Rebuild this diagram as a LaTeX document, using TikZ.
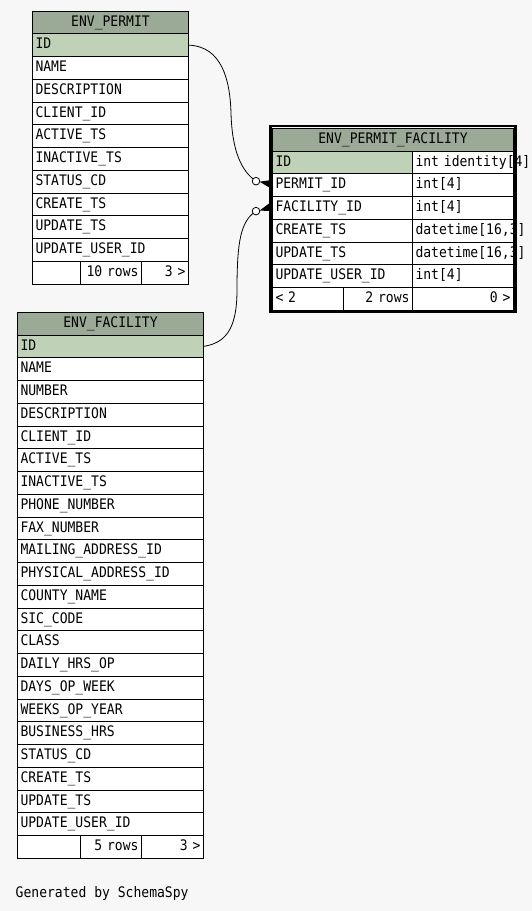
\documentclass[tikz,border=0pt]{standalone}
\usepackage{fontspec}
\usetikzlibrary{positioning}
\newfontfamily\tablefont[FakeStretch=0.9]{DejaVu Sans Mono}
\definecolor{headgreen}{RGB}{155,170,150}
\definecolor{keygreen}{RGB}{191,210,184}
\definecolor{canvas}{RGB}{247,247,247}
\tikzset{
	cell/.style={draw, fill=white, line width=1bp, outer sep=0pt, inner xsep=3bp, inner ysep=0pt,
		minimum height=22.75bp, text height=10.5bp, text depth=3bp, align=left,
		font=\fontsize{14.5bp}{17bp}\tablefont},
	headcell/.style={cell, fill=headgreen, align=center},
	keycell/.style={cell, fill=keygreen},
	rcell/.style={cell, align=right},
}
\begin{document}
\begin{tikzpicture}[x=1bp, y=-1bp]
	
	\fill[canvas] (0,0) rectangle (532,911);
	\useasboundingbox (0,0) rectangle (532,911);
	
	% ENV_PERMIT
	\node[headcell, text width=150bp, anchor=north west] (pm-0) at (32.5,11) {ENV\_PERMIT};
	\node[keycell, text width=150bp, below=0pt of pm-0] (pm-1) {ID};
	\node[cell, text width=150bp, below=0pt of pm-1] (pm-2) {NAME};
	\node[cell, text width=150bp, below=0pt of pm-2] (pm-3) {DESCRIPTION};
	\node[cell, text width=150bp, below=0pt of pm-3] (pm-4) {CLIENT\_ID};
	\node[cell, text width=150bp, below=0pt of pm-4] (pm-5) {ACTIVE\_TS};
	\node[cell, text width=150bp, below=0pt of pm-5] (pm-6) {INACTIVE\_TS};
	\node[cell, text width=150bp, below=0pt of pm-6] (pm-7) {STATUS\_CD};
	\node[cell, text width=150bp, below=0pt of pm-7] (pm-8) {CREATE\_TS};
	\node[cell, text width=150bp, below=0pt of pm-8] (pm-9) {UPDATE\_TS};
	\node[cell, text width=150bp, below=0pt of pm-9] (pm-10) {UPDATE\_USER\_ID};
	\node[cell, text width=42bp, anchor=north west] (pm-f1) at (pm-10.south west) {};
	\node[rcell, text width=55bp, right=0pt of pm-f1] (pm-f2) {10 rows};
	\node[rcell, text width=41bp, right=0pt of pm-f2] (pm-f3) {3 >};
	
	% ENV_FACILITY
	\node[headcell, text width=180bp, anchor=north west] (fa-0) at (17.5,312.3) {ENV\_FACILITY};
	\node[keycell, text width=180bp, below=0pt of fa-0] (fa-1) {ID};
	\node[cell, text width=180bp, below=0pt of fa-1] (fa-2) {NAME};
	\node[cell, text width=180bp, below=0pt of fa-2] (fa-3) {NUMBER};
	\node[cell, text width=180bp, below=0pt of fa-3] (fa-4) {DESCRIPTION};
	\node[cell, text width=180bp, below=0pt of fa-4] (fa-5) {CLIENT\_ID};
	\node[cell, text width=180bp, below=0pt of fa-5] (fa-6) {ACTIVE\_TS};
	\node[cell, text width=180bp, below=0pt of fa-6] (fa-7) {INACTIVE\_TS};
	\node[cell, text width=180bp, below=0pt of fa-7] (fa-8) {PHONE\_NUMBER};
	\node[cell, text width=180bp, below=0pt of fa-8] (fa-9) {FAX\_NUMBER};
	\node[cell, text width=180bp, below=0pt of fa-9] (fa-10) {MAILING\_ADDRESS\_ID};
	\node[cell, text width=180bp, below=0pt of fa-10] (fa-11) {PHYSICAL\_ADDRESS\_ID};
	\node[cell, text width=180bp, below=0pt of fa-11] (fa-12) {COUNTY\_NAME};
	\node[cell, text width=180bp, below=0pt of fa-12] (fa-13) {SIC\_CODE};
	\node[cell, text width=180bp, below=0pt of fa-13] (fa-14) {CLASS};
	\node[cell, text width=180bp, below=0pt of fa-14] (fa-15) {DAILY\_HRS\_OP};
	\node[cell, text width=180bp, below=0pt of fa-15] (fa-16) {DAYS\_OP\_WEEK};
	\node[cell, text width=180bp, below=0pt of fa-16] (fa-17) {WEEKS\_OP\_YEAR};
	\node[cell, text width=180bp, below=0pt of fa-17] (fa-18) {BUSINESS\_HRS};
	\node[cell, text width=180bp, below=0pt of fa-18] (fa-19) {STATUS\_CD};
	\node[cell, text width=180bp, below=0pt of fa-19] (fa-20) {CREATE\_TS};
	\node[cell, text width=180bp, below=0pt of fa-20] (fa-21) {UPDATE\_TS};
	\node[cell, text width=180bp, below=0pt of fa-21] (fa-22) {UPDATE\_USER\_ID};
	\node[cell, text width=57bp, anchor=north west] (fa-f1) at (fa-22.south west) {};
	\node[rcell, text width=55bp, right=0pt of fa-f1] (fa-f2) {5 rows};
	\node[rcell, text width=56bp, right=0pt of fa-f2] (fa-f3) {3 >};
	
	% ENV_PERMIT_FACILITY
	\node[headcell, text width=235bp, anchor=north west] (pf-0) at (272.5,128.3) {ENV\_PERMIT\_FACILITY};
	\node[keycell, text width=134bp, anchor=north west] (pf-1) at (pf-0.south west) {ID};
	\node[cell, text width=95bp, right=0pt of pf-1] (pf-1t) {\mbox{int identity[4]}};
	\node[cell, text width=134bp, below=0pt of pf-1] (pf-2) {PERMIT\_ID};
	\node[cell, text width=95bp, right=0pt of pf-2] (pf-2t) {int[4]};
	\node[cell, text width=134bp, below=0pt of pf-2] (pf-3) {FACILITY\_ID};
	\node[cell, text width=95bp, right=0pt of pf-3] (pf-3t) {int[4]};
	\node[cell, text width=134bp, below=0pt of pf-3] (pf-4) {CREATE\_TS};
	\node[cell, text width=95bp, right=0pt of pf-4] (pf-4t) {\mbox{datetime[16,3]}};
	\node[cell, text width=134bp, below=0pt of pf-4] (pf-5) {UPDATE\_TS};
	\node[cell, text width=95bp, right=0pt of pf-5] (pf-5t) {\mbox{datetime[16,3]}};
	\node[cell, text width=134bp, below=0pt of pf-5] (pf-6) {UPDATE\_USER\_ID};
	\node[cell, text width=95bp, right=0pt of pf-6] (pf-6t) {int[4]};
	\node[cell, text width=65bp, anchor=north west] (pf-f1) at (pf-6.south west) {< 2};
	\node[rcell, text width=63bp, right=0pt of pf-f1] (pf-f2) {2 rows};
	\node[rcell, text width=95bp, right=0pt of pf-f2] (pf-f3) {0 >};
	\draw[line width=2.4bp] ([shift={(-2,-2.3)}]pf-0.north west) rectangle ([shift={(1.8,1.8)}]pf-f3.south east);
	
	% relationships
	\coordinate (permit-end) at ([shift={(-16.5,-4)}]pf-2.west);
	\coordinate (facility-end) at ([shift={(-16.5,3.2)}]pf-3.west);
	\draw[line width=0.8bp] (pm-1.east) .. controls (222,46.4) and (230,80) .. (231,113)
		.. controls (232,150) and (241,171) .. (permit-end);
	\draw[line width=0.8bp] (fa-1.east) .. controls (225,343) and (237,330) .. (237,290)
		.. controls (237,240) and (241,221) .. (facility-end);
	\fill ([shift={(3.5,0.5)}]permit-end) -- ([shift={(-2,-5)}]pf-2.west) -- ([shift={(-2,3)}]pf-2.west) -- cycle;
	\fill ([shift={(3.5,-0.5)}]facility-end) -- ([shift={(-2,-5.5)}]pf-3.west) -- ([shift={(-2,3)}]pf-3.west) -- cycle;
	\draw[line width=0.8bp, fill=white] (permit-end) circle[radius=3.8bp];
	\draw[line width=0.8bp, fill=white] (facility-end) circle[radius=3.8bp];
	
	\node[anchor=base west, inner sep=0pt, font=\fontsize{14.5bp}{17bp}\tablefont] (credit) at (15.5,897) {Generated by SchemaSpy};
	
\end{tikzpicture}
\end{document}
